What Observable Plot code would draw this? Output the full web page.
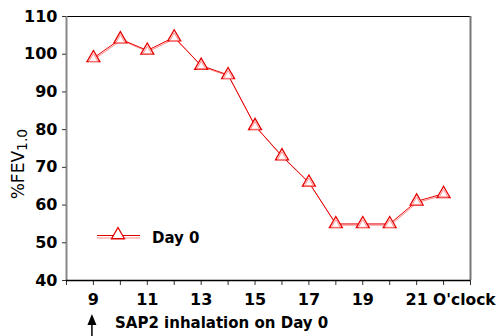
<!DOCTYPE html>
<html><head><meta charset="utf-8">
<script src="https://cdn.jsdelivr.net/npm/d3@7"></script>
<script src="https://cdn.jsdelivr.net/npm/@observablehq/plot@0.6"></script>
<style>body{margin:0;background:#fff}</style>
</head><body><div id="chart"></div>
<script>
const hours = [9,10,11,12,13,14,15,16,17,18,19,20,21,22];
const fev = [99,104,101,104.5,97,94.5,81,73,66,55,55,55,61,63];
const seriesName = "Day 0";
const yTicks = [40,50,60,70,80,90,100,110];
const xTicks = [8,9,10,11,12,13,14,15,16,17,18,19,20,21,22,23];
const xLabels = [9,11,13,15,17,19,21];
const unitLabel = "O'clock";
const yLabelMain = "%FEV";
const yLabelSub = "1.0";
const note = "SAP2 inhalation on Day 0";
const noteHour = 9;

const data = hours.map((h,i)=>({hour:h, fev:fev[i]}));
const font = "'DejaVu Sans', 'Liberation Sans', Arial, sans-serif";
const red = "#e60000", pink = "#ff8a8a";

const plot = Plot.plot({
  width:497, height:336, marginLeft:66, marginRight:27, marginTop:16, marginBottom:56,
  style:{fontFamily:font, background:"#fff", overflow:"visible", color:"#000"},
  x:{domain:[8,23]}, y:{domain:[40,110]},
  marks:[
    Plot.ruleY([110], {stroke:"#000", strokeWidth:1}),
    Plot.ruleX([23], {stroke:"#777", strokeWidth:2}),
    Plot.ruleX([8], {stroke:"#888", strokeWidth:2}),
    Plot.axisY({ticks:yTicks, tickSize:4, tickPadding:5, fontSize:16, fontWeight:"bold", label:null, stroke:"#333"}),
    Plot.axisX({ticks:xTicks, tickSize:5, tickPadding:8, fontSize:16, fontWeight:"bold", label:null, stroke:"#333",
      tickFormat: d => xLabels.includes(d) ? String(d) : ""}),
    Plot.ruleY([40], {stroke:"#000", strokeWidth:1.5}),
    Plot.line(data, {x:"hour", y:"fev", stroke:pink, strokeWidth:1, dx:0.8, dy:1.2}),
    Plot.line(data, {x:"hour", y:"fev", stroke:red, strokeWidth:1}),
    Plot.dot(data, {x:"hour", y:"fev", symbol:"triangle", r:4.8, stroke:red, strokeWidth:1.3, fill:"white"}),
    Plot.dot(data, {x:"hour", y:"fev", symbol:"triangle", r:3.3, stroke:pink, strokeWidth:1, fill:"none", dy:0.8})
  ]
});

const svg = d3.select(plot);
const sx = plot.scale("x"), sy = plot.scale("y");

// unit label for x axis
svg.append("text").attr("x", sx.apply(22) - 10).attr("y", 305).attr("text-anchor", "start")
  .attr("font-family", font).attr("font-size", 15.5).attr("font-weight", "bold")
  .text(unitLabel);

// y axis label
const yl = svg.append("text").attr("transform", `translate(24,164) rotate(-90)`)
  .attr("text-anchor", "middle").attr("font-family", font).attr("font-size", 17);
yl.append("tspan").text(yLabelMain);
yl.append("tspan").attr("font-size", 14).attr("dy", 3).text(yLabelSub);

// legend
const lg = svg.append("g");
lg.append("line").attr("x1", 97).attr("x2", 140).attr("y1", 235.5).attr("y2", 235.5).attr("stroke", red);
lg.append("line").attr("x1", 97).attr("x2", 140).attr("y1", 238).attr("y2", 238).attr("stroke", pink);
lg.append("path").attr("transform", "translate(118,235)")
  .attr("d", d3.symbol(d3.symbolTriangle, Math.PI * 4.8 * 4.8)())
  .attr("fill", "white").attr("stroke", red).attr("stroke-width", 1.3);
lg.append("text").attr("x", 152).attr("y", 243).attr("text-anchor", "start").attr("font-family", font)
  .attr("font-size", 15).attr("font-weight", "bold").text(seriesName);

// annotation arrow + note
const ax = sx.apply(noteHour) - 1;
svg.append("path").attr("d", `M${ax},314 L${ax-4.5},325 L${ax+4.5},325 Z`).attr("fill", "#000");
svg.append("line").attr("x1", ax).attr("x2", ax).attr("y1", 322).attr("y2", 336).attr("stroke", "#000").attr("stroke-width", 1.5);
svg.append("text").attr("x", 115).attr("y", 328).attr("text-anchor", "start").attr("font-family", font)
  .attr("font-size", 15).attr("font-weight", "bold").text(note);

document.getElementById("chart").appendChild(plot);
</script>
</body></html>
